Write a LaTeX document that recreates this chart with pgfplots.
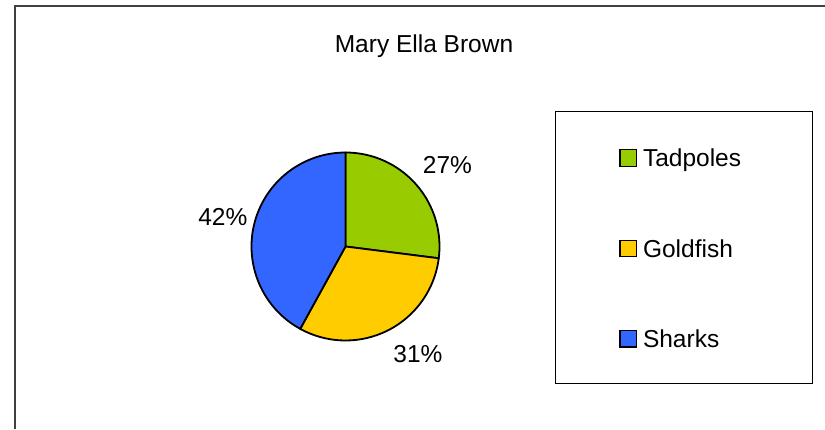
\documentclass[border=0pt]{standalone}
\usepackage{pgfplots}
\pgfplotsset{compat=1.18}
\usepackage{pgfplotstable}
\usepackage{fontspec}
\setmainfont{Liberation Sans}

\definecolor{tadpole}{HTML}{99CC00}
\definecolor{goldfish}{HTML}{FFCC00}
\definecolor{shark}{HTML}{3366FF}

% value in percent, label centre in pixel coordinates
\pgfplotstableread{
name     value lx    ly
Tadpoles 27    447.5 164.7
Goldfish 31    418.0 353.7
Sharks   42    222.8 217.0
}\piedata

\begin{document}
\begin{tikzpicture}
\fontsize{12.25}{14.7}\selectfont
\begin{axis}[
    width=412.5pt, height=214.5pt,
    scale only axis,
    xmin=0, xmax=825, ymin=0, ymax=429,
    y dir=reverse,
    hide axis,
    clip=false,
    legend cell align=left,
    legend style={draw=none, fill=none, inner xsep=0pt, inner ysep=0pt,
        at={(axis cs:619,148.7)}, anchor=north west,
        row sep=36.4pt, column sep=3pt,
        nodes={inner sep=0pt, text height=8.8pt, text depth=0pt},
        font=\fontsize{12.25}{14.7}\selectfont},
]
\addlegendimage{legend image code/.code={\filldraw[fill=tadpole, draw=black, line width=0.6pt] (0pt,-4.1pt) rectangle (8.2pt,4.1pt);}}
\addlegendentry{Tadpoles}
\addlegendimage{legend image code/.code={\filldraw[fill=goldfish, draw=black, line width=0.6pt] (0pt,-4.1pt) rectangle (8.2pt,4.1pt);}}
\addlegendentry{Goldfish}
\addlegendimage{legend image code/.code={\filldraw[fill=shark, draw=black, line width=0.6pt] (0pt,-4.1pt) rectangle (8.2pt,4.1pt);}}
\addlegendentry{Sharks}

\pgfplotsextra{
  % outer frame and page extent
  \coordinate (pgTL) at (axis cs:0,0);
  \coordinate (pgBR) at (axis cs:825,429);
  \draw[black!75, line width=0.9pt] (axis cs:15,429) -- (axis cs:15,6) -- (axis cs:825,6);
  % title
  \node[inner sep=0pt, text height=8.8pt, text depth=0pt] at (axis cs:424,44) {Mary Ella Brown};
  % legend box
  \draw[black, line width=0.5pt] (axis cs:555.7,111.7) rectangle (axis cs:812,383.3);
  % pie slices, clockwise from 12 o'clock
  \gdef\angA{90}
  \foreach \i/\col in {0/tadpole,1/goldfish,2/shark}{
    \pgfplotstablegetelem{\i}{value}\of\piedata
    \pgfmathsetmacro\angB{\angA-3.6*\pgfplotsretval}
    \filldraw[fill=\col, draw=black, line width=0.9pt, line join=round]
      (axis cs:345.5,246.5) -- ++(\angA:47pt)
      arc[start angle=\angA, end angle=\angB, radius=47pt] -- cycle;
    \global\let\angA\angB
  }
  % percentage labels
  \foreach \i in {0,1,2}{
    \pgfplotstablegetelem{\i}{value}\of\piedata
    \let\pv\pgfplotsretval
    \pgfplotstablegetelem{\i}{lx}\of\piedata
    \let\lx\pgfplotsretval
    \pgfplotstablegetelem{\i}{ly}\of\piedata
    \let\ly\pgfplotsretval
    \node[inner sep=0pt, text height=8.8pt, text depth=0pt] at (axis cs:\lx,\ly) {\pv\%};
  }
}
\end{axis}
\pgfresetboundingbox
\path (pgTL) rectangle (pgBR);
\end{tikzpicture}
\end{document}
